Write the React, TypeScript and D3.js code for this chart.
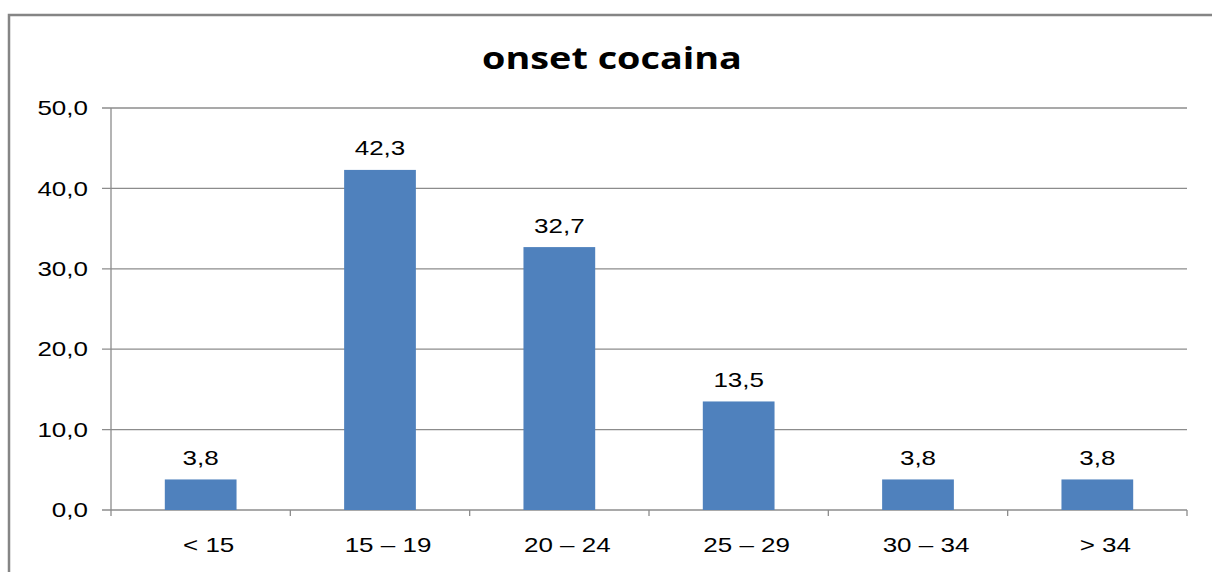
import React from "react";
import * as d3 from "d3";

const categories = ["< 15", "15 – 19", "20 – 24", "25 – 29", "30 – 34", "> 34"];
const values = [3.8, 42.3, 32.7, 13.5, 3.8, 3.8];
const yTicks = [0, 10, 20, 30, 40, 50];
const title = "onset cocaina";

const fmt = (v: number) => v.toFixed(1).replace(".", ",");

const font = "'Liberation Sans', Arial, sans-serif";

function T({ x, y, anchor, children, size = 20, sx = 1.3, family = font, weight = "normal", dy }: any) {
  return (
    <text transform={`translate(${x},${y}) scale(${sx},1)`} dy={dy} textAnchor={anchor} fontFamily={family} fontWeight={weight} fontSize={size} fill="#000">
      {children}
    </text>
  );
}

export default function App() {
  const W = 1212, H = 572;
  const left = 111, right = 1187, top = 108, bottom = 510;
  const x = d3.scaleBand<string>().domain(categories).range([left, right]).paddingInner(0.6).paddingOuter(0.3);
  const xb = d3.scaleLinear().domain([0, categories.length]).range([left, right]);
  const y = d3.scaleLinear().domain([0, 50]).range([bottom, top]);
  return (
    <svg width={W} height={H} style={{ position: "absolute", left: 0, top: 0, background: "#fff" }}>
      <rect x={0} y={0} width={W} height={H} fill="#fff" />
      <path d={`M9,${H} L9,15 L${W},15`} fill="none" stroke="#858585" strokeWidth={2.5} />
      {yTicks.map((t) => (
        <g key={t}>
          <line x1={102} x2={right} y1={y(t)} y2={y(t)} stroke="#8c8c8c" strokeWidth={1.3} />
          <T x={88} y={y(t)} dy="0.36em" anchor="end">{fmt(t)}</T>
        </g>
      ))}
      <line x1={left} x2={left} y1={top} y2={bottom} stroke="#8c8c8c" strokeWidth={1.3} />
      {d3.range(categories.length + 1).map((i) => (
        <line key={i} x1={xb(i)} x2={xb(i)} y1={bottom} y2={bottom + 6} stroke="#8c8c8c" strokeWidth={1.3} />
      ))}
      {categories.map((c, i) => {
        const cx = (x(c) as number) + x.bandwidth() / 2;
        return (
          <g key={c}>
            <rect x={x(c)} y={y(values[i])} width={x.bandwidth()} height={bottom - y(values[i])} fill="#4f81bd" />
            <T x={cx} y={y(values[i]) - 14.5} anchor="middle">{fmt(values[i])}</T>
            <T x={cx + 8} y={552} anchor="middle">{c}</T>
          </g>
        );
      })}
      <T x={612} y={69} anchor="middle" size={30} sx={1.26} family="'Open Sans', 'Noto Sans', sans-serif" weight="bold">{title}</T>
    </svg>
  );
}
